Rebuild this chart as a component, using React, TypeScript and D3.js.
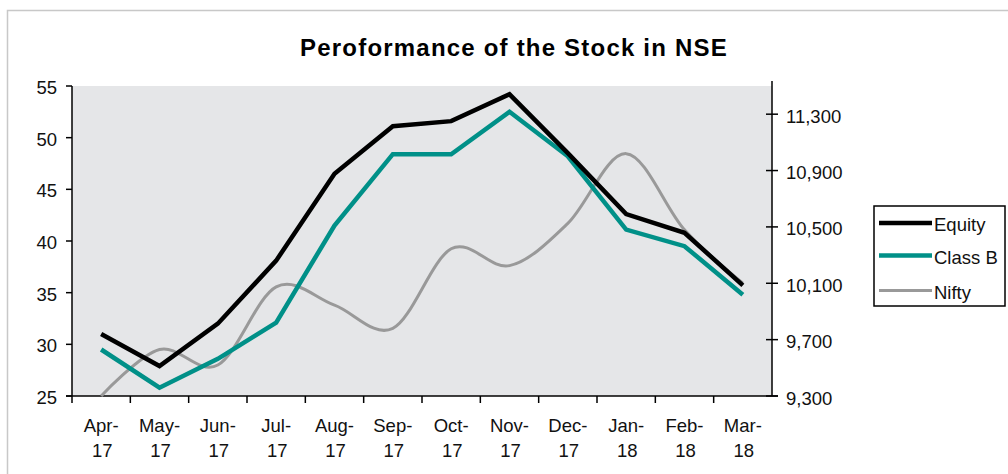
import * as d3 from "d3";
import {useEffect, useRef} from "react";

const months = ["Apr-17", "May-17", "Jun-17", "Jul-17", "Aug-17", "Sep-17", "Oct-17", "Nov-17", "Dec-17", "Jan-18", "Feb-18", "Mar-18"];
const equity = [31.0, 27.9, 32.0, 38.1, 46.5, 51.1, 51.6, 54.2, 48.5, 42.6, 40.8, 35.7];
const classB = [29.5, 25.8, 28.6, 32.1, 41.5, 48.4, 48.4, 52.5, 48.2, 41.1, 39.5, 34.8];
const nifty = [9300, 9630, 9520, 10075, 9945, 9780, 10345, 10225, 10525, 11020, 10480, 10100];
const leftTicks = [25, 30, 35, 40, 45, 50, 55];
const rightTicks = [9300, 9700, 10100, 10500, 10900, 11300];

const W = 1008, H = 474;

export default function App() {
    const ref = useRef(null);

    useEffect(() => {
        const svg = d3.select(ref.current);
        svg.selectAll("*").remove();

        const left = 72, right = 772, top = 86, bottom = 396;
        const font = "'Liberation Sans', Arial, sans-serif";
        const fs = "18.5px";

        // outer frame (only left + top show up)
        svg.append("path")
            .attr("d", `M7.5,${H} V10.5 H${W}`)
            .attr("fill", "none")
            .attr("stroke", "#c8c8c8")
            .attr("stroke-width", 1.5);

        svg.append("text")
            .attr("x", 514)
            .attr("y", 56)
            .attr("text-anchor", "middle")
            .style("font-family", font)
            .style("font-weight", "bold")
            .style("font-size", "24px")
            .style("letter-spacing", "1.2px")
            .text("Peroformance of the Stock in NSE");

        const x = d3.scaleBand().domain(months).range([left, right]);
        const y = d3.scaleLinear().domain([25, 55]).range([bottom, top]);
        const y2 = d3.scaleLinear().domain([9300, 11500]).range([bottom, top]);

        svg.append("rect")
            .attr("x", left).attr("y", top)
            .attr("width", right - left).attr("height", bottom - top)
            .attr("fill", "#e5e6e8");

        // left axis
        const gl = svg.append("g");
        gl.append("line").attr("x1", left).attr("x2", left).attr("y1", top).attr("y2", bottom)
            .attr("stroke", "#000").attr("stroke-width", 1.5);
        leftTicks.forEach(t => {
            gl.append("line").attr("x1", left - 6).attr("x2", left).attr("y1", y(t)).attr("y2", y(t))
                .attr("stroke", "#000").attr("stroke-width", 1.5);
            gl.append("text").attr("x", left - 15).attr("y", y(t) + 8)
                .attr("text-anchor", "end")
                .style("font-family", font).style("font-size", fs).attr("fill", "#111")
                .text(t);
        });

        // right axis
        const gr = svg.append("g");
        gr.append("line").attr("x1", right).attr("x2", right).attr("y1", top - 5).attr("y2", bottom)
            .attr("stroke", "#000").attr("stroke-width", 1.5);
        const fmt = d3.format(",");
        rightTicks.forEach(t => {
            gr.append("line").attr("x1", right - 6).attr("x2", right + 6).attr("y1", y2(t)).attr("y2", y2(t))
                .attr("stroke", "#000").attr("stroke-width", 1.5);
            gr.append("text").attr("x", right + 14).attr("y", y2(t) + 8.5)
                .style("font-family", font).style("font-size", fs).attr("fill", "#111")
                .text(fmt(t));
        });

        // bottom axis
        const gb = svg.append("g");
        gb.append("line").attr("x1", left - 6).attr("x2", right + 6).attr("y1", bottom).attr("y2", bottom)
            .attr("stroke", "#000").attr("stroke-width", 1.5);
        months.forEach((m, i) => {
            const bx = left + i * x.bandwidth();
            gb.append("line").attr("x1", bx).attr("x2", bx).attr("y1", bottom).attr("y2", bottom + 7)
                .attr("stroke", "#000").attr("stroke-width", 1.5);
            const cx = x(m) + x.bandwidth() / 2;
            const parts = m.split("-");
            const tx = gb.append("text").attr("text-anchor", "middle")
                .style("font-family", font).style("font-size", fs).attr("fill", "#111");
            tx.append("tspan").attr("x", cx).attr("y", 432).text(parts[0] + "-");
            tx.append("tspan").attr("x", cx + 1).attr("y", 457).text(parts[1]);
        });

        const cx = (i) => x(months[i]) + x.bandwidth() / 2;

        const lineL = d3.line().x((d, i) => cx(i)).y(d => y(d));
        const lineR = d3.line().x((d, i) => cx(i)).y(d => y2(d)).curve(d3.curveCatmullRom.alpha(0));

        svg.append("path").attr("d", lineR(nifty)).attr("fill", "none")
            .attr("stroke", "#999999").attr("stroke-width", 3);
        svg.append("path").attr("d", lineL(classB)).attr("fill", "none")
            .attr("stroke", "#009088").attr("stroke-width", 4.5);
        svg.append("path").attr("d", lineL(equity)).attr("fill", "none")
            .attr("stroke", "#000").attr("stroke-width", 4.5);

        // legend
        const lg = svg.append("g");
        lg.append("rect").attr("x", 874).attr("y", 206).attr("width", 131).attr("height", 100)
            .attr("fill", "#fff").attr("stroke", "#000").attr("stroke-width", 1.5);
        const items = [
            {name: "Equity", color: "#000", w: 4.5, yy: 223},
            {name: "Class B", color: "#009088", w: 4.5, yy: 255.5},
            {name: "Nifty", color: "#999999", w: 3, yy: 290.5},
        ];
        items.forEach(it => {
            lg.append("line").attr("x1", 879).attr("x2", 932).attr("y1", it.yy).attr("y2", it.yy)
                .attr("stroke", it.color).attr("stroke-width", it.w);
            lg.append("text").attr("x", 934).attr("y", it.yy + 8)
                .style("font-family", font).style("font-size", fs).attr("fill", "#111")
                .text(it.name);
        });
    }, []);

    return (
        <svg ref={ref} width={W} height={H}
             style={{position: "absolute", left: 0, top: 0, background: "#fff"}}/>
    );
}
